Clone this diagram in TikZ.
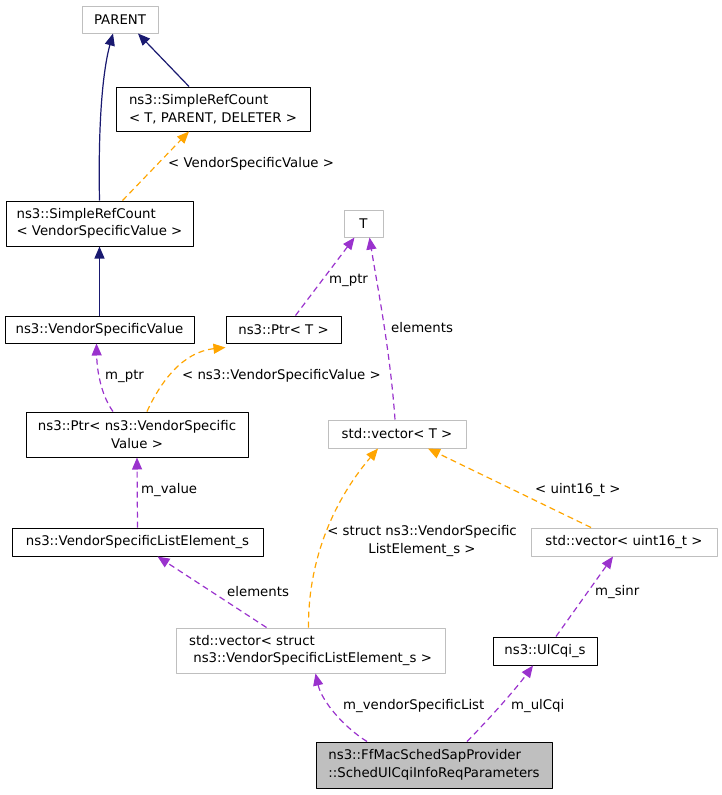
\documentclass[tikz,border=0pt]{standalone}
\usepackage{fontspec}
\setmainfont{DejaVu Sans}
\usepackage{tikz}
\usetikzlibrary{arrows.meta}
\definecolor{edgenavy}{HTML}{191970}
\definecolor{edgepurple}{HTML}{9A32CD}
\definecolor{edgeorange}{HTML}{FFA500}
\definecolor{boxgray}{HTML}{BFBFBF}
\begin{document}
\begin{tikzpicture}[line cap=butt,line join=round,x=1pt,y=-1pt,
    >={Triangle[length=12pt,width=10pt]},
    every node/.style={font=\fontsize{13.3}{17.5}\selectfont},
    cls/.style={draw=black,line width=1pt,rectangle,inner sep=0pt,align=left},
    ext/.style={draw=boxgray,line width=1pt,rectangle,inner sep=0pt,align=left},
    inh/.style={->,draw=edgenavy,line width=1.2pt},
    usage/.style={->,draw=edgepurple,line width=1.2pt,dash pattern=on 6pt off 4pt},
    tmpl/.style={->,draw=edgeorange,line width=1.2pt,dash pattern=on 6pt off 4pt},
    lbl/.style={anchor=west,inner sep=0pt}]
    \useasboundingbox (0,0) rectangle (721,795);
    \node[ext,minimum width=76,minimum height=27] (parent) at (120,19.5) {PARENT};
    \node[cls,minimum width=194,minimum height=44] (srcT) at (213,109) {ns3::SimpleRefCount\\< T, PARENT, DELETER >};
    \node[cls,minimum width=187,minimum height=45] (srcV) at (99.5,223.5) {ns3::SimpleRefCount\\< VendorSpecificValue >};
    \node[cls,minimum width=189,minimum height=27] (vsv) at (99.5,329.5) {ns3::VendorSpecificValue};
    \node[cls,minimum width=115,minimum height=27] (ptrT) at (283.5,329.5) {ns3::Ptr< T >};
    \node[ext,minimum width=39,minimum height=27] (tT) at (363.5,223.5) {T};
    \node[cls,minimum width=222,minimum height=45,align=center] (ptrV) at (137,434.5) {ns3::Ptr< ns3::VendorSpecific\\Value >};
    \node[ext,minimum width=138,minimum height=28] (vecT) at (397,434) {std::vector< T >};
    \node[cls,minimum width=251,minimum height=28] (vsle) at (137.5,542) {ns3::VendorSpecificListElement\_s};
    \node[ext,minimum width=186,minimum height=28] (vecU) at (624,542) {std::vector< uint16\_t >};
    \node[ext,minimum width=269,minimum height=45] (vecS) at (310.5,650.5) {std::vector< struct\\\ ns3::VendorSpecificListElement\_s >};
    \node[cls,minimum width=104,minimum height=28] (ulcqi) at (545,651) {ns3::UlCqi\_s};
    \node[cls,fill=boxgray,minimum width=236,minimum height=46] (main) at (434,765) {ns3::FfMacSchedSapProvider\\::SchedUlCqiInfoReqParameters};
    \draw[inh] (srcV.north) .. controls (98,120) and (103,70) .. ([xshift=-7]parent.south);
    \draw[inh] ([xshift=-24]srcT.north) -- ([xshift=18]parent.south);
    \draw[tmpl] ([xshift=23]srcV.north) -- ([xshift=-24]srcT.south);
    \node[lbl] (l1) at (168,164) {< VendorSpecificValue >};
    \draw[inh] (vsv.north) -- (srcV.south);
    \draw[usage] ([xshift=-24]ptrV.north) .. controls (103,398) and (97,375) .. ([xshift=-3]vsv.south);
    \node[lbl] (l2) at (105,376) {m\_ptr};
    \draw[tmpl] ([xshift=10]ptrV.north) .. controls (160,383) and (182,352) .. ([yshift=-4]ptrT.south west);
    \node[lbl] (l3) at (182,376) {< ns3::VendorSpecificValue >};
    \draw[usage] ([xshift=12]ptrT.north) -- ([xshift=-9]tT.south);
    \node[lbl] (l4) at (329,280) {m\_ptr};
    \draw[usage] ([xshift=-2]vecT.north) .. controls (390,350) and (378,290) .. ([xshift=6]tT.south);
    \node[lbl] (l5) at (391,328) {elements};
    \draw[usage] (vsle.north) -- (ptrV.south);
    \node[lbl] (l6) at (141,490) {m\_value};
    \draw[usage] ([xshift=-44]vecS.north) -- ([xshift=20]vsle.south);
    \node[lbl] (l7) at (227,592) {elements};
    \draw[tmpl] ([xshift=-2]vecS.north) .. controls (308,565) and (330,505) .. ([xshift=-19]vecT.south);
    \node[align=center,inner sep=0pt] (l8) at (422,541) {< struct ns3::VendorSpecific\\ListElement\_s >};
    \draw[tmpl] ([xshift=-33]vecU.north) -- ([xshift=31]vecT.south);
    \node[lbl] (l9) at (535,490) {< uint16\_t >};
    \draw[usage] ([xshift=11]ulcqi.north) -- ([xshift=-11]vecU.south);
    \node[lbl] (l10) at (595,592) {m\_sinr};
    \draw[usage] ([xshift=-67]main.north) .. controls (345,728) and (322,702) .. ([xshift=5]vecS.south);
    \node[lbl] (l11) at (343,706) {m\_vendorSpecificList};
    \draw[usage] ([xshift=33]main.north) .. controls (490,718) and (515,690) .. ([xshift=-12]ulcqi.south);
    \node[lbl] (l12) at (511,706) {m\_ulCqi};
\end{tikzpicture}
\end{document}
